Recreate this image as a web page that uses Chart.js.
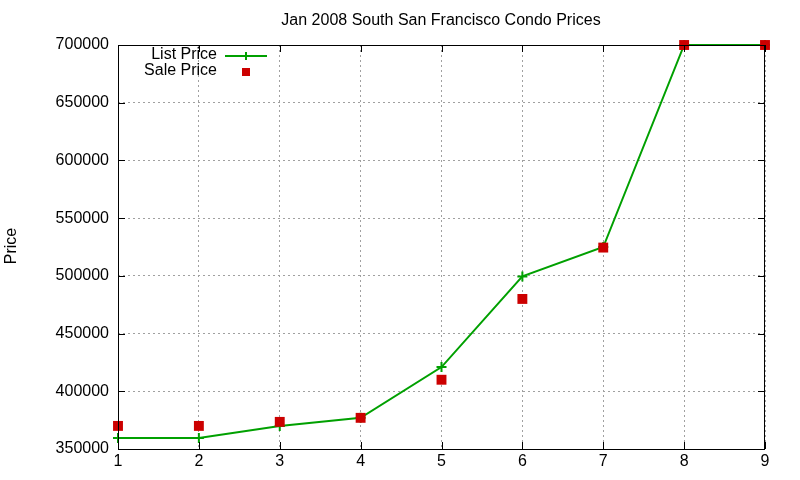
<!DOCTYPE html>
<html>
<head>
<meta charset="utf-8">
<script src="https://cdn.jsdelivr.net/npm/chart.js@4/dist/chart.umd.min.js"></script>
<style>
  html, body { margin: 0; padding: 0; background: #fff; }
  #wrap { width: 800px; height: 480px; }
</style>
</head>
<body>
<div id="wrap"><canvas id="condo"></canvas></div>
<script>
const units = [1, 2, 3, 4, 5, 6, 7, 8, 9];
const listPrice = [359500, 359500, 370000, 377000, 421000, 499500, 525000, 700000, 700000];
const salePrice = [370000, 370000, 373500, 377000, 410000, 480000, 524500, 700000, 700000];
const yTicks = [350000, 400000, 450000, 500000, 550000, 600000, 650000, 700000];

const FONT = '"Liberation Sans", Arial, sans-serif';
const GREEN = '#00a000';
const RED = '#cc0000';

// title, y label, frame, inward ticks and the gnuplot-ish legend
const decor = {
    id: 'decor',
    afterDraw(c) {
        const ctx = c.ctx;
        const a = c.chartArea;
        const xs = c.scales.x, ys = c.scales.y;
        ctx.save();
        ctx.fillStyle = '#000';
        ctx.font = '16px ' + FONT;
        ctx.textAlign = 'center';
        ctx.textBaseline = 'middle';
        ctx.fillText('Jan 2008 South San Francisco Condo Prices', 441, 21);

        ctx.save();
        ctx.translate(12, 246);
        ctx.rotate(-Math.PI / 2);
        ctx.fillText('Price', 0, 0);
        ctx.restore();

        ctx.strokeStyle = '#000';
        ctx.lineWidth = 1;
        ctx.strokeRect(a.left + 0.5, a.top + 0.5, a.right - a.left - 1, a.bottom - a.top);

        ctx.beginPath();
        yTicks.forEach(v => {
            const y = Math.round(ys.getPixelForValue(v)) + 0.5;
            ctx.moveTo(a.left, y); ctx.lineTo(a.left + 7, y);
            ctx.moveTo(a.right, y); ctx.lineTo(a.right - 7, y);
        });
        units.forEach(v => {
            const x = Math.round(xs.getPixelForValue(v)) + 0.5;
            ctx.moveTo(x, a.bottom); ctx.lineTo(x, a.bottom - 7);
            ctx.moveTo(x, a.top); ctx.lineTo(x, a.top + 7);
        });
        ctx.stroke();

        // legend
        ctx.textAlign = 'right';
        ctx.fillText('List Price', 217, 55);
        ctx.fillText('Sale Price', 217, 71);
        ctx.strokeStyle = GREEN;
        ctx.lineWidth = 2;
        ctx.beginPath();
        ctx.moveTo(225, 56); ctx.lineTo(267, 56);
        ctx.moveTo(246, 52); ctx.lineTo(246, 60);
        ctx.stroke();
        ctx.fillStyle = RED;
        ctx.fillRect(242, 68, 8, 8);
        ctx.restore();
    }
};

new Chart(document.getElementById('condo'), {
    type: 'line',
    data: {
        datasets: [{
            label: 'List Price',
            data: units.map((u, i) => ({ x: u, y: listPrice[i] })),
            order: 2,
            borderColor: GREEN,
            backgroundColor: GREEN,
            borderWidth: 2,
            pointStyle: 'cross',
            pointRadius: 5,
            pointBorderWidth: 2,
            clip: false
        }, {
            label: 'Sale Price',
            data: units.map((u, i) => ({ x: u, y: salePrice[i] })),
            order: 1,
            showLine: false,
            borderColor: RED,
            backgroundColor: RED,
            pointStyle: 'rect',
            pointRadius: 7,
            pointBorderWidth: 0,
            clip: false
        }]
    },
    options: {
        responsive: true,
        maintainAspectRatio: false,
        animation: false,
        layout: { padding: { top: 45, right: 35, left: 0, bottom: 0 } },
        plugins: {
            legend: { display: false },
            title: { display: false },
            tooltip: { enabled: false }
        },
        scales: {
            x: {
                type: 'linear',
                min: 1,
                max: 9,
                afterFit: s => { s.height = 31; },
                afterBuildTicks: s => { s.ticks = units.map(v => ({ value: v })); },
                ticks: { color: '#000', font: { family: FONT, size: 16 }, padding: 3, maxRotation: 0 },
                grid: { color: '#a0a0a0', drawTicks: false },
                border: { display: false, dash: [2, 3] }
            },
            y: {
                type: 'linear',
                min: 350000,
                max: 700000,
                afterFit: s => { s.width = 118; },
                afterBuildTicks: s => { s.ticks = yTicks.map(v => ({ value: v })); },
                ticks: { color: '#000', font: { family: FONT, size: 16 }, padding: 9, callback: v => String(v) },
                grid: { color: '#a0a0a0', drawTicks: false },
                border: { display: false, dash: [2, 3] }
            }
        }
    },
    plugins: [decor]
});
</script>
</body>
</html>
